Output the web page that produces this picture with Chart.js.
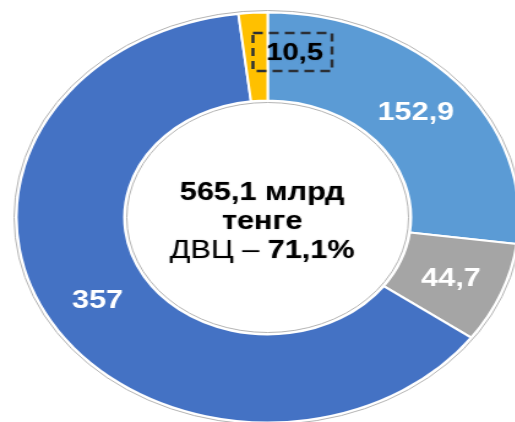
<!DOCTYPE html>
<html>
<head>
<meta charset="utf-8">
<script src="https://cdn.jsdelivr.net/npm/chart.js@4/dist/chart.umd.min.js"></script>
<style>
  html, body { margin: 0; padding: 0; width: 515px; height: 422px; overflow: hidden; background: #fff; }
  #c { display: block; transform: scaleX(1.225); transform-origin: 0 0; }
</style>
</head>
<body>
<canvas id="c" width="422" height="424"></canvas>
<script>
// ---- data ----
const categories = ['Сегмент 1', 'Сегмент 2', 'Сегмент 3', 'Сегмент 4'];
const values = [152.9, 44.7, 357, 10.5];
const valueLabels = ['152,9', '44,7', '357', '10,5'];
const totalLine = '565,1 млрд';
const unitLine = 'тенге';
const shareName = 'ДВЦ – ';
const shareValue = '71,1%';

const FONT = '"Liberation Sans", Arial, sans-serif';

const annotPlugin = {
  id: 'annot',
  afterDatasetsDraw(chart) {
    const ctx = chart.ctx;
    const meta = chart.getDatasetMeta(0);
    const a0 = meta.data[0];
    const cx = a0.x, cy = a0.y, R = a0.outerRadius, r = a0.innerRadius;
    ctx.save();
    // thin grey outlines
    ctx.strokeStyle = '#b4b4b4';
    ctx.lineWidth = 1;
    ctx.beginPath(); ctx.arc(cx, cy, R + 2, 0, Math.PI * 2); ctx.stroke();
    ctx.beginPath(); ctx.arc(cx, cy, r - 2, 0, Math.PI * 2); ctx.stroke();

    // segment labels
    ctx.textAlign = 'center';
    ctx.textBaseline = 'alphabetic';
    meta.data.forEach((arc, i) => {
      if (i === 3) {
        const fs = 24;
        ctx.font = 'bold ' + fs + 'px ' + FONT;
        ctx.fillStyle = '#000';
        ctx.shadowColor = 'rgba(0,0,0,0.35)';
        ctx.shadowBlur = 1.5;
        ctx.fillText(valueLabels[i], cx + 22, cy - 157.5);
        ctx.shadowColor = 'transparent';
        ctx.shadowBlur = 0;
        ctx.setLineDash([8, 5]);
        ctx.strokeStyle = '#2b2f36';
        ctx.lineWidth = 2.5;
        ctx.strokeRect(cx - 12, cy - 184.5, 64.5, 38);
        ctx.setLineDash([]);
        return;
      }
      const p = arc.tooltipPosition();
      const fs = 25;
      ctx.font = 'bold ' + fs + 'px ' + FONT;
      ctx.fillStyle = '#fff';
      ctx.fillText(valueLabels[i], p.x, p.y + fs * 0.36);
    });

    // centre text
    const tx = cx - 4.5;
    ctx.fillStyle = '#000';
    ctx.shadowColor = 'rgba(0,0,0,0.35)';
    ctx.shadowBlur = 1.5;
    ctx.font = 'bold 25px ' + FONT;
    ctx.fillText(totalLine, tx, cy - 18);
    ctx.fillText(unitLine, tx, cy + 11);
    ctx.font = '25px ' + FONT;
    const w1 = ctx.measureText(shareName).width;
    ctx.font = 'bold 25px ' + FONT;
    const w2 = ctx.measureText(shareValue).width;
    const x0 = tx - (w1 + w2) / 2;
    ctx.textAlign = 'left';
    ctx.font = '25px ' + FONT;
    ctx.fillText(shareName, x0, cy + 40.5);
    ctx.font = 'bold 25px ' + FONT;
    ctx.fillText(shareValue, x0 + w1, cy + 40.5);
    ctx.restore();
  }
};

new Chart(document.getElementById('c'), {
  type: 'doughnut',
  data: {
    labels: categories,
    datasets: [{
      data: values,
      backgroundColor: ['#5B9BD5', '#A5A5A5', '#4472C4', '#FFC000'],
      borderColor: '#ffffff',
      borderWidth: 2
    }]
  },
  options: {
    responsive: false,
    animation: false,
    radius: 205,
    cutout: (117 / 205 * 100) + '%',
    layout: { padding: { left: 15, top: 11, right: 0, bottom: 0 } },
    plugins: { legend: { display: false }, tooltip: { enabled: false } }
  },
  plugins: [annotPlugin]
});
</script>
</body>
</html>
